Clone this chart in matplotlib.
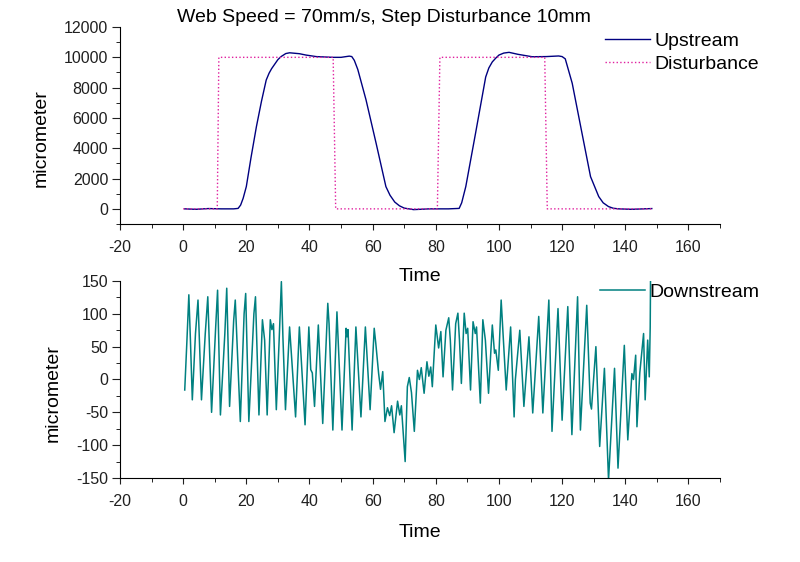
"""Upstream / downstream web response to a 10mm step disturbance at 70mm/s."""

import matplotlib
matplotlib.use("Agg")
import matplotlib.pyplot as plt
from matplotlib.ticker import MultipleLocator

plt.rcParams["font.family"] = ["Liberation Sans", "DejaVu Sans"]
plt.rcParams["axes.unicode_minus"] = False

# Upstream lateral position, micrometer vs time
up_t = [0.5, 4, 8, 12, 16, 17.4, 18.2, 19, 20, 21.5, 23.2, 24.8, 26.3, 27.2,
        28, 29, 30, 31, 32.5, 33.7, 36.8, 38.9, 42.1, 47.4, 50, 52.6, 53.4,
        54.2, 55.3, 57.9, 61.1, 64.2, 65.5, 67, 68.5, 70, 73, 78, 84, 87.4,
        88.2, 89.5, 92.6, 95.8, 96.8, 97.9, 99, 100, 101.5, 103.2, 106, 110.5,
        115, 118.9, 120, 121, 123.2, 126.3, 129, 131.6, 133, 134.7, 136.2,
        137.9, 142, 148.4]
up_v = [0, -30, 20, 0, 0, 30, 250, 700, 1470, 3400, 5430, 7100, 8500, 8950,
        9250, 9550, 9850, 10050, 10250, 10300, 10240, 10150, 10050, 10000,
        10000, 10080, 10050, 9800, 9200, 7200, 4330, 1470, 900, 450, 200, 50,
        -50, 0, 0, 30, 400, 1470, 5000, 8700, 9300, 9700, 9950, 10150, 10280,
        10330, 10200, 10040, 10050, 10090, 10050, 9900, 8290, 4990, 2130, 810,
        400, 150, 40, 0, -30, 20]

# Step disturbance
dist_t = [0, 10.8, 11.3, 47.5, 48.3, 80.5, 81.3, 114.5, 115.3, 148.5]
dist_v = [0, 0, 10000, 10000, 0, 0, 10000, 10000, 0, 0]

# Downstream lateral position
ds_t = [0.5, 1.2, 1.8, 2.3, 2.9, 3.9, 4.7, 5.8, 7.0, 7.8, 9.0, 10.3, 10.9,
        11.8, 13.2, 13.8, 14.7, 16.0, 16.5, 18.1, 19.3, 19.8, 20.8, 22.4, 22.9,
        24.0, 25.1, 25.8, 26.6, 27.6, 28.1, 28.6, 29.5, 30.4, 31.1, 31.6, 32.4,
        33.7, 35.6, 36.8, 37.4, 38.6, 39.8, 40.4, 40.9, 41.6, 42.8, 44.2, 45.8,
        46.2, 47.4, 48.7, 50.3, 51.6, 51.9, 52.2, 53.5, 54.7, 56.3, 57.7, 59.2,
        60.5, 61.0, 61.9, 62.5, 63.2, 63.9, 64.7, 65.4, 66.0, 66.8, 67.9, 68.6,
        69.1, 70.3, 71.0, 71.6, 72.3, 73.2, 74.2, 74.8, 75.4, 76.3, 77.2, 77.8,
        78.4, 78.9, 80.0, 80.9, 81.6, 82.3, 83.2, 84.1, 84.6, 85.3, 86.3, 87.0,
        87.5, 88.1, 89.0, 89.6, 90.1, 91.0, 91.8, 92.5, 92.9, 94.1, 94.9, 95.7,
        96.7, 97.9, 98.6, 99.0, 99.8, 100.7, 101.4, 102.3, 103.7, 104.8, 105.2,
        106.6, 107.9, 109.5, 110.7, 112.6, 113.9, 115.8, 116.8, 118.7, 120.0,
        121.8, 123.1, 124.9, 125.8, 127.8, 128.9, 129.3, 130.7, 131.9, 133.4,
        134.7, 136.6, 137.7, 139.7, 140.8, 142.1, 142.6, 143.3, 143.7, 144.6,
        145.3, 145.8, 146.3, 147.1, 147.6, 147.9, 148.0]
ds_v = [-16, 60, 129, 60, -31, 70, 121, -31, 70, 126, -50, 80, 136,
        -54, 70, 139, -41, 90, 121, -64, 100, 131, -64, 100, 126,
        -54, 91, 60, -54, 91, 76, 85, -46, 60, 149, 63, -46,
        80, -57, 80, 30, -69, 80, 15, 10, -41, 83, -67, 116,
        85, -77, 103, -77, 78, 65, 76, -77, 80, -57, 80, -46,
        78, 55, 9, -15, 12, -64, -43, -55, -40, -81, -33, -54,
        -40, -125, -11, 3, -20, -79, 14, 0, 18, -21, 27, 5,
        19, -11, 83, 48, 73, 4, 75, 94, 60, -16, 85, 101,
        60, -6, 101, 70, 78, -16, 88, 70, 80, -36, 91, 60,
        -21, 83, 40, 45, 14, 121, 60, -16, 80, -57, 0,
        75, -41, 65, -51, 96, -51, 121, -79, 108, -62,
        111, -84, 126, -77, 113, -36, -45, 50, -102, 17,
        -153, 17, -135, 52, -92, 9, 0, 37, -72, 10,
        45, 70, -31, 60, 4, 80, 151]

x_major = list(range(-20, 161, 20))

fig = plt.figure(figsize=(8, 5.62), dpi=100)
ax1 = fig.add_axes([0.15, 0.6014, 0.75, 0.3505])
ax2 = fig.add_axes([0.15, 0.1495, 0.75, 0.3505])

ax1.plot(up_t, up_v, color="#000080", lw=1.0, label="Upstream")
ax1.plot(dist_t, dist_v, color="#e0209f", lw=1.0, ls=":", label="Disturbance")
ax2.plot(ds_t, ds_v, color="#008080", lw=1.1, label="Downstream")

ax1.set_ylim(-1000, 12000)
ax1.yaxis.set_major_locator(MultipleLocator(2000))
ax1.yaxis.set_minor_locator(MultipleLocator(1000))
ax2.set_ylim(-150, 150)
ax2.yaxis.set_major_locator(MultipleLocator(50))
ax2.yaxis.set_minor_locator(MultipleLocator(25))

for ax in (ax1, ax2):
    ax.set_xlim(-20, 170)
    ax.set_xticks(x_major)
    ax.xaxis.set_minor_locator(MultipleLocator(10))
    ax.spines["top"].set_visible(False)
    ax.spines["right"].set_visible(False)
    ax.tick_params(labelsize=11.5, colors="#202020", direction="out")
    ax.tick_params(axis="x", which="major", length=4.5, pad=7)
    ax.tick_params(axis="y", which="major", length=5.5, pad=3)
    ax.tick_params(which="minor", length=3)
    ax.set_xlabel("Time", fontsize=14)
    ax.set_ylabel("micrometer", fontsize=14)

ax1.xaxis.set_label_coords(0.5, -0.225)
ax2.xaxis.set_label_coords(0.5, -0.235)
ax1.yaxis.set_label_coords(-0.117, 0.4365)
ax2.yaxis.set_label_coords(-0.097, 0.429)

fig.text(383.5 / 800, 1 - 17 / 562, "Web Speed = 70mm/s, Step Disturbance 10mm",
         ha="center", va="center", fontsize=14)

ax1.legend(loc="upper left", bbox_to_anchor=(605 / 800, 1 - 32 / 562),
           bbox_transform=fig.transFigure, frameon=False, fontsize=14,
           handlelength=2.3, handletextpad=0.25, borderpad=0, borderaxespad=0,
           labelspacing=0.3)
ax2.legend(loc="upper left", bbox_to_anchor=(600 / 800, 1 - 283 / 562),
           bbox_transform=fig.transFigure, frameon=False, fontsize=14,
           handlelength=2.3, handletextpad=0.25, borderpad=0, borderaxespad=0)

fig.savefig("out.png", dpi=100)
